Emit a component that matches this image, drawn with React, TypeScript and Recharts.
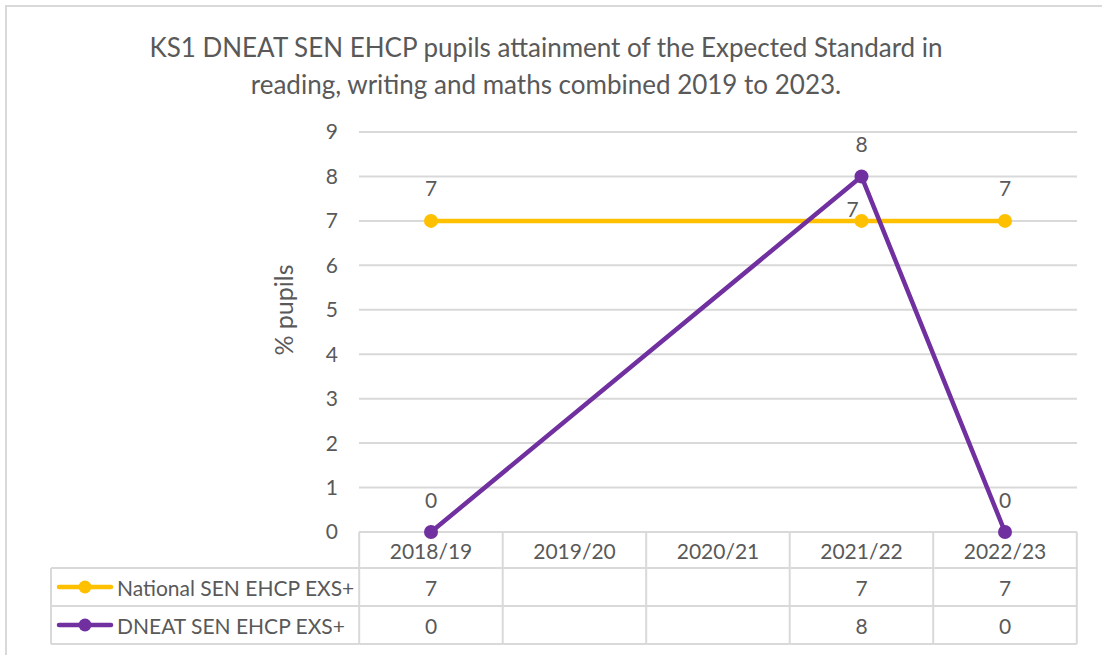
import React from 'react';
import { LineChart, Line, XAxis, YAxis, CartesianGrid, LabelList } from 'recharts';

const years = ['2018/19', '2019/20', '2020/21', '2021/22', '2022/23'];
const nationalEhcp = [7, null, null, 7, 7];
const dneatEhcp = [0, null, null, 8, 0];
const yTicks = [0, 1, 2, 3, 4, 5, 6, 7, 8, 9];

const seriesNames = ['National SEN EHCP EXS+', 'DNEAT SEN EHCP EXS+'];
const seriesColors = ['#FFC000', '#7030A0'];

const data = years.map((year, i) => ({
  year,
  national: nationalEhcp[i],
  dneat: dneatEhcp[i]
}));

const FONT = 'Lato, "Open Sans", sans-serif';
const TEXT = '#595959';
const BORDER = '#d9d9d9';

const W = 1102;
const H = 655;
const PLOT = { left: 359, right: 1077, top: 132, bottom: 532 };
const ROW_H = 38;
const HEAD_BOTTOM = 568;
const LEGEND_LEFT = 51;
const CELL_FONT = 21;

// draws one column of the data table under each category
const TableColumn = (props: any) => {
  const { x, index } = props;
  const cellW = (PLOT.right - PLOT.left) / years.length;
  const left = x - cellW / 2;
  const right = x + cellW / 2;
  const rows = [nationalEhcp[index], dneatEhcp[index]];
  return (
    <g>
      <line x1={left} x2={left} y1={PLOT.bottom} y2={HEAD_BOTTOM + ROW_H * 2} stroke={BORDER} strokeWidth={2} />
      {index === years.length - 1 && (
        <line x1={right} x2={right} y1={PLOT.bottom} y2={HEAD_BOTTOM + ROW_H * 2} stroke={BORDER} strokeWidth={2} />
      )}
      <line x1={left} x2={right} y1={HEAD_BOTTOM} y2={HEAD_BOTTOM} stroke={BORDER} strokeWidth={2} />
      <line x1={left} x2={right} y1={HEAD_BOTTOM + ROW_H} y2={HEAD_BOTTOM + ROW_H} stroke={BORDER} strokeWidth={2} />
      <line x1={left} x2={right} y1={HEAD_BOTTOM + ROW_H * 2} y2={HEAD_BOTTOM + ROW_H * 2} stroke={BORDER} strokeWidth={2} />
      <text x={x} y={(PLOT.bottom + HEAD_BOTTOM) / 2} textAnchor="middle" dominantBaseline="central" fill={TEXT} fontSize={CELL_FONT} fontFamily={FONT}>
        {years[index]}
      </text>
      {rows.map((v, r) => (
        <text key={r} x={x} y={HEAD_BOTTOM + ROW_H * r + ROW_H / 2} textAnchor="middle" dominantBaseline="central" fill={TEXT} fontSize={CELL_FONT} fontFamily={FONT}>
          {v === null ? '' : v}
        </text>
      ))}
    </g>
  );
};

const makeLabel = (series: 'national' | 'dneat') => (props: any) => {
  const { x, y, value, index } = props;
  if (value === null || value === undefined) return null;
  // Excel nudged the overlapping national label at 2021/22 up-left
  const shifted = series === 'national' && index === 3;
  return (
    <text
      x={shifted ? x - 9 : x}
      y={shifted ? y - 12 : y - 33}
      textAnchor="middle"
      dominantBaseline="central"
      fill={TEXT}
      fontSize={CELL_FONT}
      fontFamily={FONT}
    >
      {value}
    </text>
  );
};

export default function App() {
  return (
    <div style={{ position: 'absolute', left: 0, top: 0, width: W, height: H, background: '#fff', overflow: 'hidden' }}>
      <LineChart
        width={W}
        height={H}
        data={data}
        margin={{ top: PLOT.top, right: W - PLOT.right, bottom: 0, left: PLOT.left - 60 }}
      >
        <CartesianGrid horizontal vertical={false} stroke={BORDER} strokeWidth={2} />
        <XAxis
          dataKey="year"
          padding={{ left: 72, right: 72 }}
          axisLine={false}
          tickLine={false}
          interval={0}
          height={H - PLOT.bottom}
          tick={<TableColumn />}
        />
        <YAxis
          width={60}
          domain={[0, 9]}
          ticks={yTicks}
          axisLine={false}
          tickLine={false}
          tickSize={0}
          tickMargin={21}
          tick={{ fill: TEXT, fontSize: 21, fontFamily: FONT }}
        />
        <Line
          dataKey="national"
          stroke={seriesColors[0]}
          strokeWidth={4.5}
          connectNulls
          dot={{ r: 7, fill: seriesColors[0], stroke: seriesColors[0], strokeWidth: 0 }}
          isAnimationActive={false}
        >
          <LabelList dataKey="national" content={makeLabel('national')} />
        </Line>
        <Line
          dataKey="dneat"
          stroke={seriesColors[1]}
          strokeWidth={4.5}
          connectNulls
          dot={{ r: 7, fill: seriesColors[1], stroke: seriesColors[1], strokeWidth: 0 }}
          isAnimationActive={false}
        >
          <LabelList dataKey="dneat" content={makeLabel('dneat')} />
        </Line>
      </LineChart>
      <svg width={W} height={H} style={{ position: 'absolute', left: 0, top: 0, pointerEvents: 'none' }}>
        <rect x={6} y={6} width={W + 20} height={H + 20} fill="none" stroke={BORDER} strokeWidth={2} />
        <text x={546} y={47} textAnchor="middle" dominantBaseline="central" fill={TEXT} fontSize={26} fontFamily={FONT}>
          KS1 DNEAT SEN EHCP pupils attainment of the Expected Standard in
        </text>
        <text x={546} y={84} textAnchor="middle" dominantBaseline="central" fill={TEXT} fontSize={26} fontFamily={FONT}>
          reading, writing and maths combined 2019 to 2023.
        </text>
        <text
          x={283}
          y={310}
          textAnchor="middle"
          dominantBaseline="central"
          fill={TEXT}
          fontSize={25}
          fontFamily={FONT}
          transform="rotate(-90 283 310)"
        >
          % pupils
        </text>
        {/* legend cells of the data table */}
        <line x1={LEGEND_LEFT} x2={PLOT.left} y1={HEAD_BOTTOM} y2={HEAD_BOTTOM} stroke={BORDER} strokeWidth={2} />
        <line x1={LEGEND_LEFT} x2={PLOT.left} y1={HEAD_BOTTOM + ROW_H} y2={HEAD_BOTTOM + ROW_H} stroke={BORDER} strokeWidth={2} />
        <line x1={LEGEND_LEFT} x2={PLOT.left} y1={HEAD_BOTTOM + ROW_H * 2} y2={HEAD_BOTTOM + ROW_H * 2} stroke={BORDER} strokeWidth={2} />
        <line x1={LEGEND_LEFT} x2={LEGEND_LEFT} y1={HEAD_BOTTOM} y2={HEAD_BOTTOM + ROW_H * 2} stroke={BORDER} strokeWidth={2} />
        {seriesNames.map((name, i) => {
          const cy = HEAD_BOTTOM + ROW_H * i + ROW_H / 2;
          return (
            <g key={name}>
              <line x1={59} x2={111} y1={cy} y2={cy} stroke={seriesColors[i]} strokeWidth={4.5} strokeLinecap="round" />
              <circle cx={85} cy={cy} r={6.5} fill={seriesColors[i]} />
              <text x={117} y={cy} dominantBaseline="central" fill={TEXT} fontSize={CELL_FONT} fontFamily={FONT}>
                {name}
              </text>
            </g>
          );
        })}
      </svg>
    </div>
  );
}
